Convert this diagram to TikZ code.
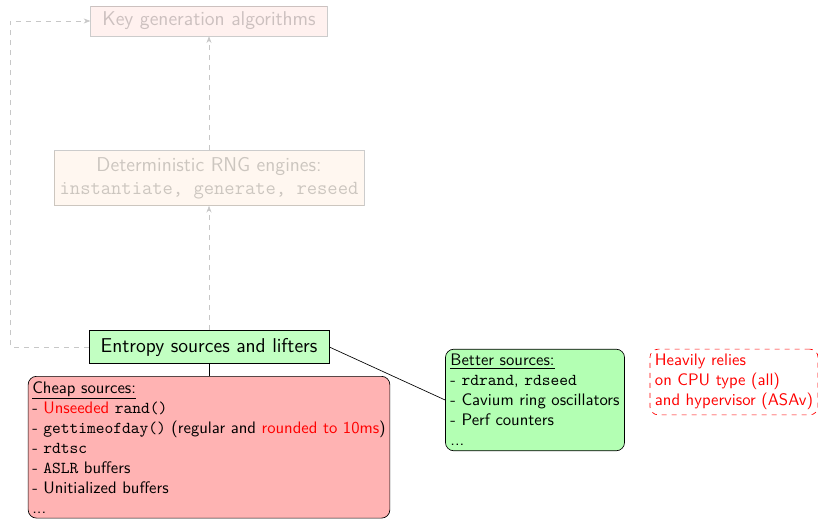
\documentclass[tikz,border=0pt]{standalone}
\usepackage{tikz}
\usetikzlibrary{arrows.meta,positioning,calc}
\renewcommand{\familydefault}{\sfdefault}
\definecolor{cheapred}{HTML}{FFB3B3}
\definecolor{goodgreen}{HTML}{B3FFB3}
\definecolor{keypink}{HTML}{FFB8B0}
\definecolor{rngpeach}{HTML}{FFD9B3}

\begin{document}
\begin{tikzpicture}[x=0.6pt, y=-0.6pt,
    faded/.style={rectangle, draw, opacity=0.2, font=\large},
    flow/.style={->, >={Stealth[length=4pt]}, dashed, black!22},
    srcbox/.style={rectangle, draw, rounded corners=5pt, align=left, inner sep=3pt}]
        \useasboundingbox (0,0) rectangle (818,519);

        % Key generation
        \node[faded, fill=keypink, minimum width=142pt, minimum height=18pt] (keygen) at (209,21) {Key generation algorithms};

        % DRBG
        \node[faded, fill=rngpeach, align=center, minimum width=183pt, minimum height=33pt] (drbg) at (209,178) {Deterministic RNG engines:\\\texttt{instantiate, generate, reseed}};

        % Entropy
        \node[rectangle, draw, fill=goodgreen!80, font=\large, minimum width=144pt, minimum height=20pt] (entropy) at (209,347) {Entropy sources and lifters};

        % Sources
        \node[srcbox, fill=cheapred, anchor=north, inner xsep=2.5pt] (cheap) at (209,376) {\underline{Cheap sources:}\\
            - \textcolor{red}{Unseeded} \texttt{rand()}\\
            - \texttt{gettimeofday()} (regular and \textcolor{red}{rounded to 10ms})\\
            - \texttt{rdtsc}\\
            - \texttt{ASLR} buffers\\
            - Unitialized buffers\\
            ...};
        \node[srcbox, fill=goodgreen] (better) at (535,400) {\underline{Better sources:}\\
            - \texttt{rdrand}, \texttt{rdseed}\\
            - Cavium ring oscillators\\
            - Perf counters\\
            ...};

        % Note
        \node[srcbox, draw=red, dashed, text=red] (note) at (734,382) {Heavily relies\\on CPU type (all)\\and hypervisor (ASAv)};

        % Links
        \draw (entropy.south) -- (cheap.north);
        \draw (entropy.east) -- (better.west);
        \draw[flow] (entropy.north) -- (drbg.south);
        \draw[flow] (drbg.north) -- (keygen.south);
        \draw[flow] (entropy.west) -| ($(keygen.west)+(-80,0)$) -- (keygen.west);

      \end{tikzpicture}
\end{document}
